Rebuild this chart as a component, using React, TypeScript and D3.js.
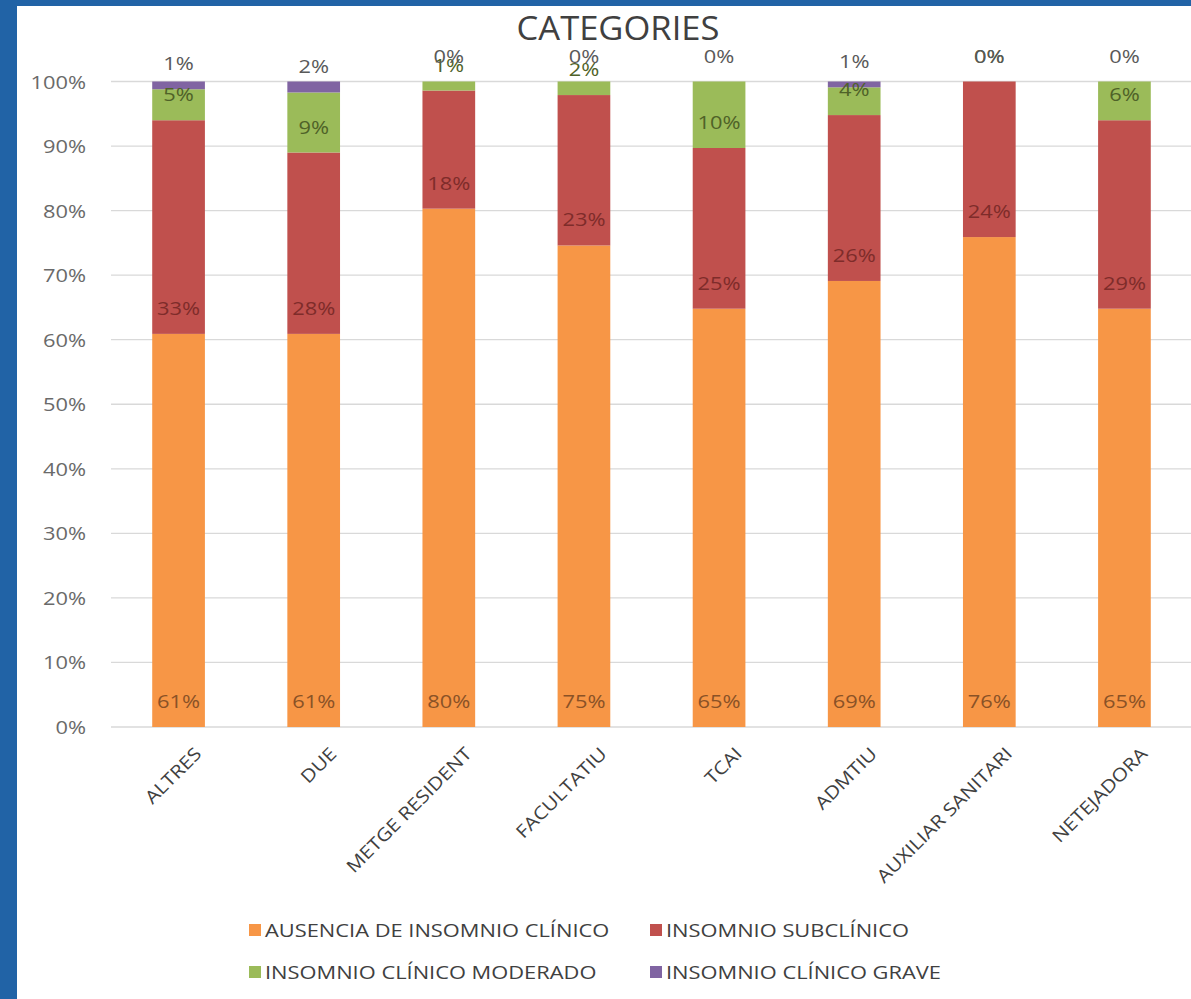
import React from "react";
import * as d3 from "d3";

const categories = ["ALTRES", "DUE", "METGE RESIDENT", "FACULTATIU", "TCAI", "ADMTIU", "AUXILIAR SANITARI", "NETEJADORA"];
const seriesNames = ["AUSENCIA DE INSOMNIO CLÍNICO", "INSOMNIO SUBCLÍNICO", "INSOMNIO CLÍNICO MODERADO", "INSOMNIO CLÍNICO GRAVE"];
const ausencia = [60.9, 60.9, 80.3, 74.6, 64.8, 69.1, 75.9, 64.8];
const subclinico = [33.1, 28.1, 18.3, 23.3, 24.9, 25.7, 24.1, 29.2];
const moderado = [4.8, 9.3, 1.4, 2.1, 10.3, 4.3, 0, 6.0];
const grave = [1.2, 1.7, 0, 0, 0, 0.9, 0, 0];
const yTicks = [0, 10, 20, 30, 40, 50, 60, 70, 80, 90, 100];

const seriesColors = ["#F79646", "#C0504D", "#9BBB59", "#8064A2"];
const labelColors = ["#8a5226", "#7e2c2a", "#4f6228", "#595959"];

const W = 1191;
const H = 999;
const FONT = "'Open Sans', 'Noto Sans', sans-serif";
const SX = 1.15;

export default function App() {
  const values = [ausencia, subclinico, moderado, grave];
  const x = d3.scaleBand<string>().domain(categories).range([111, 1192]).paddingInner(0.61).paddingOuter(0.305);
  const y = d3.scaleLinear().domain([0, 100]).range([727, 81.5]);
  const rows = categories.map((c, i) => {
    const r: any = { cat: c };
    seriesNames.forEach((s, k) => (r[s] = values[k][i]));
    return r;
  });
  const stacked = d3.stack<any>().keys(seriesNames)(rows);
  const cx = (c: string) => (x(c) as number) + x.bandwidth() / 2;

  return (
    <svg width={W} height={H} style={{ position: "absolute", left: 0, top: 0 }} fontFamily={FONT}>
      <rect x={0} y={0} width={W} height={H} fill="#2163A6" />
      <rect x={17} y={6} width={W - 17} height={H - 6} fill="#ffffff" />
      <text transform={`translate(618,40) scale(1.08,1)`} textAnchor="middle" fontSize={32} fill="#404040">CATEGORIES</text>
      {yTicks.map((t) => (
        <g key={t}>
          <line x1={111} x2={1191} y1={y(t)} y2={y(t)} stroke="#d9d9d9" strokeWidth={1.3} />
          <text transform={`translate(86,${y(t) + 7}) scale(${SX},1)`} textAnchor="end" fontSize={19} fill="#6a6a6a">{t + "%"}</text>
        </g>
      ))}
      {stacked.map((layer, k) => (
        <g key={k}>
          {layer.map((d, i) => (
            <rect key={i} x={x(categories[i])} width={x.bandwidth()} y={y(d[1])} height={Math.max(0, y(d[0]) - y(d[1]))} fill={seriesColors[k]} />
          ))}
        </g>
      ))}
      {stacked.map((layer, k) => (
        <g key={"l" + k}>
          {layer.map((d, i) => (
            <text key={i} transform={`translate(${cx(categories[i])},${y(d[0]) - 19}) scale(${SX},1)`} textAnchor="middle" fontSize={19} fill={labelColors[k]}>
              {Math.round(values[k][i]) + "%"}
            </text>
          ))}
        </g>
      ))}
      {categories.map((c) => (
        <text key={c} transform={`translate(${cx(c) + 24},${755}) rotate(-45) scale(${SX},1)`} textAnchor="end" fontSize={18} fill="#404040">
          {c}
        </text>
      ))}
      {seriesNames.map((s, k) => {
        const lx = k % 2 === 0 ? 249 : 650;
        const ly = k < 2 ? 930 : 972;
        return (
          <g key={s}>
            <rect x={lx} y={ly - 6} width={12} height={12} fill={seriesColors[k]} />
            <text transform={`translate(${lx + 16},${ly + 7}) scale(${SX},1)`} fontSize={19} fill="#404040">{s}</text>
          </g>
        );
      })}
    </svg>
  );
}
